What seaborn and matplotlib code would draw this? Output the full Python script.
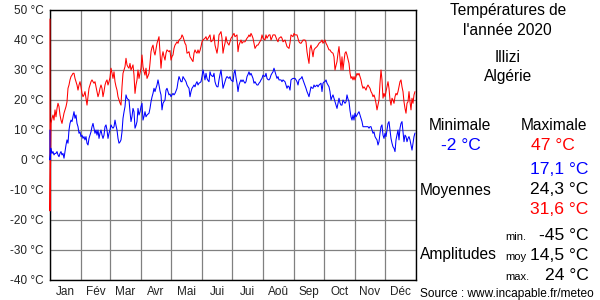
import matplotlib
matplotlib.use("Agg")
import matplotlib.pyplot as plt
import numpy as np
import pandas as pd
import seaborn as sns

# ---------------- data ----------------
months = ["Jan", "Fév", "Mar", "Avr", "Mai", "Jui", "Jui", "Aoû", "Sep", "Oct", "Nov", "Déc"]
month_days = [31, 29, 31, 30, 31, 30, 31, 31, 30, 31, 30, 31]

# daily maxima (°C); first day holds two readings
tmax_jan = [47, -17, 12.2, 13.9, 15, 13.3, 16.7, 14.4, 17.2, 18.9, 17.8, 15, 13.3, 12.2, 13.9, 15.6, 16.7,
            17.8, 19.4, 23.9, 25, 26.7, 27.8, 28.3, 28.9, 28.9, 27.2, 26.1, 25, 23.3, 25, 26.1]
tmax_feb = [24.4, 22.2, 21.1, 21.7, 22.8, 20.6, 18.3, 21.1, 23.9, 25, 26.1, 26.7, 26.1, 25.6, 26.1, 24.4,
            22.8, 21.1, 22.2, 23.9, 25, 23.9, 21.1, 22.8, 25, 26.1, 26.7, 25, 26.1]
tmax_mar = [27.5, 30.6, 29, 27.2, 29.4, 26.1, 24.5, 23.3, 21.1, 20, 19, 18.3, 24.4, 28.9, 30, 31.1, 33.9,
            31.7, 31, 30.6, 32.2, 30, 30.8, 31.7, 28.3, 22.2, 25, 26.7, 30, 27.2, 29]
tmax_apr = [30.6, 35, 31.1, 29.5, 28.3, 30.6, 27.2, 28, 28.9, 32.2, 36.1, 37.5, 38.3, 36.1, 35, 37, 38.9,
            40, 41.1, 36, 30.6, 34.4, 36.1, 34.5, 33.3, 35.6, 36.7, 36.4, 36.1, 36.5]
tmax_may = [33.3, 34.5, 35, 37.2, 38.3, 38.8, 39.4, 38.9, 40, 40.3, 40.6, 41.7, 41.1, 40, 38.9, 38.3, 35.6,
            35.8, 36.1, 34.4, 33.9, 33.3, 32.8, 35.6, 36.7, 36, 35.6, 36.7, 35.6, 36.5, 37.8]
tmax_jun = [39.4, 40, 40.3, 40.6, 41.1, 40, 40.5, 41.1, 41.7, 39.4, 39.7, 40, 41.7, 38.3, 37, 35.6, 37.8,
            41.7, 42.2, 42.8, 40.6, 35.6, 37.5, 38.9, 41.1, 39.4, 38.8, 38.3, 39.4, 40.6]
tmax_jul = [41, 41.7, 42.2, 41.1, 41.4, 41.7, 36.1, 38.3, 39.2, 40, 38.9, 39.4, 39.4, 39.4, 40, 40.6, 41,
            41.7, 41.1, 42.2, 41.5, 40.6, 38.9, 37.2, 37.8, 38.3, 38.3, 38.9, 39.5, 40, 41.7]
tmax_aug = [40.6, 40.3, 40, 41.7, 40.6, 41.2, 41.7, 41.7, 40, 40.8, 41.7, 41.7, 41.7, 40.8, 40, 39.4, 40.6,
            40.8, 41.1, 40.6, 39.4, 39.7, 40, 38.9, 37.8, 37.5, 37.2, 39, 41.7, 41.4, 41.1]
tmax_sep = [42.2, 41.7, 41.7, 41.7, 40.6, 39.4, 39, 38.9, 39.4, 40, 40, 40, 39.4, 36.1, 34, 32.2, 37.2,
            38.3, 36.5, 34.4, 36.7, 37.2, 37.5, 37.8, 38.3, 38.9, 39.2, 39.4, 40, 38.9]
tmax_oct = [39.5, 40, 38.9, 38.3, 37.5, 36.7, 36.7, 36.1, 35.8, 35.6, 34.4, 30, 31.5, 32.8, 35.6, 37.8, 34,
            30, 34.4, 30, 33, 35.6, 36.1, 35, 33.6, 32.2, 29, 27.2, 27.8, 26.7, 27.8]
tmax_nov = [26.7, 27.8, 28.9, 28.3, 28.9, 27.8, 26.7, 25, 23.9, 24.4, 23.9, 23.3, 24.4, 25, 24.4, 23.9,
            22.8, 22.2, 21.1, 21.7, 20.6, 18.9, 16.7, 18.3, 20, 25.6, 30, 26.7, 20.6, 22.2]
tmax_dec = [21.1, 22.8, 24.4, 26.1, 23.9, 20, 18.3, 20.6, 20, 18.9, 21.1, 22.2, 21.7, 22.8, 24.4, 26.1,
            26.7, 24.4, 22.8, 19.4, 17.2, 15.6, 18.9, 19.4, 22.8, 19.4, 16.7, 20.6, 18.9, 21.7, 22.8]

# daily minima (°C); first day holds two readings
tmin_jan = [10, 0, 3.9, 2.2, 2.8, 1.7, 2.2, 2.2, 2.8, 1.7, 1.1, 2.2, 2.8, 1.7, 2.2, 0.6, 2.8, 5, 6.7, 5.6,
            10, 12.2, 13.3, 12.8, 14.4, 16.1, 13.9, 15, 12.2, 11.1, 8.9, 9.4]
tmin_feb = [7.8, 8.3, 7.2, 7.8, 6.7, 7.8, 5.6, 5, 7.2, 8.3, 9.4, 11.1, 12.2, 10.6, 8.9, 10, 8.3, 10, 7.2,
            8.9, 10, 8.3, 7.2, 8.3, 11.1, 11.7, 10, 7.2, 8.9]
tmin_mar = [10, 11.7, 11, 10.6, 11.1, 13.3, 11.5, 10, 7.2, 5.6, 6, 6.7, 9.4, 13.9, 16, 17.8, 21.7, 20.6,
            20.2, 20, 16.1, 12.8, 14.5, 17.2, 16.1, 10.6, 11.5, 12.8, 17.2, 15, 16]
tmin_apr = [17.8, 18.9, 13.3, 14.5, 16.1, 14.4, 15, 15.3, 15.6, 17.2, 19.4, 21, 22.2, 23.9, 22.8, 24, 25,
            26.7, 25, 23, 21.7, 16.7, 18.9, 19.5, 20, 23.3, 23.9, 22.8, 21.7, 22]
tmin_may = [21.1, 21.7, 22.2, 21.7, 22.2, 23, 23.9, 26.1, 27.8, 27, 26.1, 26.1, 27.8, 27.2, 26.7, 26.1, 25,
            24.4, 23.9, 21.1, 22.8, 23.9, 24.4, 25, 24.4, 25.5, 26.1, 25, 25.6, 25.8, 26.1]
tmin_jun = [27.8, 30, 28.5, 26.7, 28.9, 27.2, 26.5, 26.1, 29.4, 28.3, 28, 27.8, 28.9, 26.1, 25, 24.4, 24.4,
            26.7, 28.5, 30, 27.2, 23.9, 25, 26.1, 27.2, 27.8, 27.5, 27.2, 27.8, 26.7]
tmin_jul = [26.4, 26.1, 28.9, 30, 27.5, 25.6, 22.8, 25, 26, 26.7, 26.1, 26.7, 26.1, 25.6, 26.1, 27.8, 28.5,
            29.4, 28.3, 28.9, 28, 27.2, 25.6, 26.1, 25.5, 25, 25, 25.6, 26, 26.7, 27.2]
tmin_aug = [28.3, 28, 27.8, 28.9, 27.2, 26.8, 26.7, 27.2, 28.3, 28.9, 29.4, 30.6, 29.4, 28.3, 27.2, 27.8,
            26.7, 26.7, 26.7, 26.1, 26.7, 26.4, 26.1, 25, 23.9, 24.7, 24.4, 23.3, 26.7, 27, 27.2]
tmin_sep = [27.2, 27.2, 26.7, 26.1, 25, 26.7, 27, 27.2, 27.8, 26.7, 25.8, 25, 23.9, 22.8, 22, 21.1, 22.8,
            24.4, 24, 23.9, 25, 24.4, 24.7, 25, 24.4, 25, 25.3, 25.6, 22.8, 25.6]
tmin_oct = [26, 26.1, 26.7, 25.6, 25, 24.4, 22.8, 20, 21, 21.7, 20.6, 19.4, 18.3, 17.2, 18.9, 20.6, 19,
            18.3, 18.3, 20, 19.4, 18.9, 19.4, 21.7, 20.3, 19.5, 16.5, 14.4, 13.3, 15, 13.3]
tmin_nov = [15.6, 14.4, 15, 15.6, 16.1, 15, 13.9, 12.8, 11.1, 11.1, 11.1, 11.1, 11.1, 11.1, 10.6, 11.1,
            11.1, 10, 8.9, 9.4, 7.8, 7.2, 6.7, 5, 6.1, 8.9, 11.1, 11.7, 8.3, 7.2]
tmin_dec = [8.9, 7.8, 10, 12.2, 12.8, 10, 7.2, 5.6, 4.4, 3.9, 2.8, 6.7, 8.3, 10, 6.7, 10.6, 12.2, 12.8,
            9.4, 6.1, 8.3, 7.8, 6.1, 7.2, 7.8, 6.7, 5, 3.3, 5.6, 7.8, 9]

y_ticks = [-40, -30, -20, -10, 0, 10, 20, 30, 40, 50]

title_lines = ["Températures de", "l'année 2020"]
place = ["Illizi", "Algérie"]
stat_min, stat_max = "-2 °C", "47 °C"
mean_min, mean_all, mean_max = "17,1 °C", "24,3 °C", "31,6 °C"
amp_min, amp_moy, amp_max = "-45 °C", "14,5 °C", "24 °C"
source = "Source : www.incapable.fr/meteo"

# ---------------- build tables ----------------
tmax = sum([tmax_jan, tmax_feb, tmax_mar, tmax_apr, tmax_may, tmax_jun, tmax_jul, tmax_aug,
            tmax_sep, tmax_oct, tmax_nov, tmax_dec], [])
tmin = sum([tmin_jan, tmin_feb, tmin_mar, tmin_apr, tmin_may, tmin_jun, tmin_jul, tmin_aug,
            tmin_sep, tmin_oct, tmin_nov, tmin_dec], [])
df_max = pd.DataFrame({"day": [0] + list(range(len(tmax) - 1)), "temp": tmax})
df_min = pd.DataFrame({"day": [0] + list(range(len(tmin) - 1)), "temp": tmin})

month_starts = np.concatenate([[0], np.cumsum(month_days)])
month_centers = (month_starts[:-1] + month_starts[1:]) / 2.0

# ---------------- plot ----------------
sns.set_theme(style="white")
plt.rcParams["font.family"] = ["Liberation Sans", "DejaVu Sans"]

W, H = 600, 300
fig = plt.figure(figsize=(6, 3), dpi=100)
ax = fig.add_axes([50 / W, 20 / H, 366 / W, 270 / H])

sns.lineplot(data=df_max, x="day", y="temp", ax=ax, color="#ff0000", linewidth=0.75,
             estimator=None, sort=False, zorder=3, clip_on=False)
sns.lineplot(data=df_min, x="day", y="temp", ax=ax, color="#0000ff", linewidth=0.75,
             estimator=None, sort=False, zorder=4, clip_on=False)

ax.set_xlim(0, month_starts[-1])
ax.set_ylim(y_ticks[0], y_ticks[-1])
ax.set_xlabel("")
ax.set_ylabel("")

ax.set_xticks(month_starts)
ax.set_xticklabels([""] * len(month_starts))
ax.set_xticks(month_centers, minor=True)
ax.set_xticklabels(months, minor=True)
ax.set_yticks(y_ticks)
ax.set_yticklabels([f"{v} °C" for v in y_ticks])
ax.tick_params(axis="both", which="both", length=0, labelsize=8.5, labelcolor="#222222")
ax.tick_params(axis="x", which="minor", pad=4.5)
ax.tick_params(axis="y", pad=4.5)
ax.grid(True, which="major", color="#808080", linewidth=0.9)
for s in ax.spines.values():
    s.set_color("black")
    s.set_linewidth(1.0)


def txt(x, y, s, size, color="black", ha="center"):
    fig.text(x / W, 1 - y / H, s, fontsize=size, color=color, ha=ha, va="baseline")


txt(508, 15.5, title_lines[0], 11.2)
txt(507, 35, title_lines[1], 11.2)
txt(508, 62.5, place[0], 11.2)
txt(508, 81, place[1], 11.2)
txt(460, 130, "Minimale", 11.2)
txt(554, 130, "Maximale", 11.2)
txt(461, 150, stat_min, 12.6, color="#0000ff")
txt(553, 150, stat_max, 12.6, color="#ff0000")
txt(588.5, 174.5, mean_min, 12.6, color="#0000ff", ha="right")
txt(420, 195, "Moyennes", 11.2, ha="left")
txt(588.5, 194.5, mean_all, 12.6, ha="right")
txt(588.5, 214.5, mean_max, 12.6, color="#ff0000", ha="right")
txt(505, 240, "min.", 8, ha="left")
txt(588.5, 240, amp_min, 12.6, ha="right")
txt(420, 259.5, "Amplitudes", 11.2, ha="left")
txt(505, 259.5, "moy", 8, ha="left")
txt(588.5, 259.5, amp_moy, 12.6, ha="right")
txt(505, 279.5, "max.", 8, ha="left")
txt(588.5, 279.5, amp_max, 12.6, ha="right")
txt(420, 296.5, source, 8.6, ha="left")

fig.savefig("out.png", dpi=100)
